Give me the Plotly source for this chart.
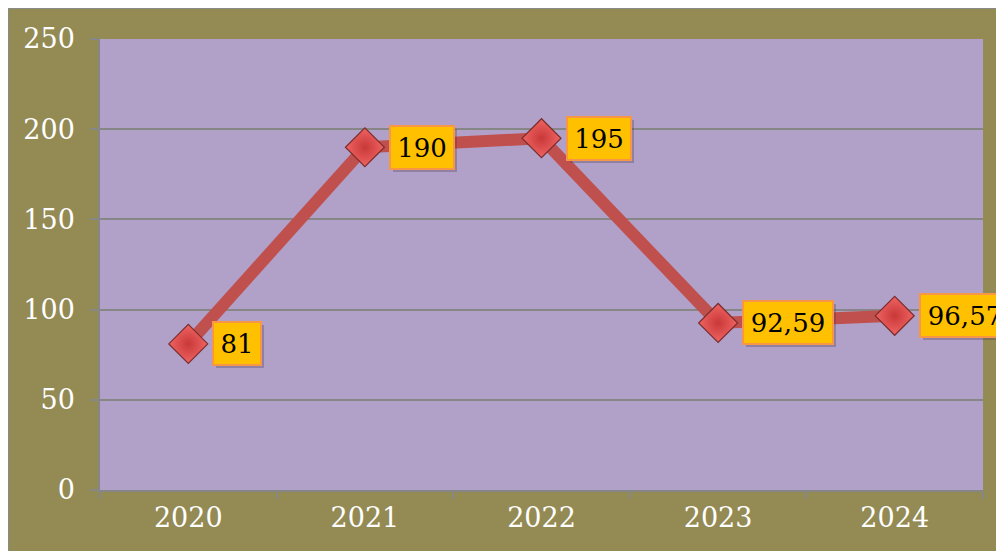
import plotly.graph_objects as go

years = ["2020", "2021", "2022", "2023", "2024"]
values = [81, 190, 195, 92.59, 96.57]
labels = ["81", "190", "195", "92,59", "96,57"]
y_ticks = [0, 50, 100, 150, 200, 250]

OLIVE = "#948A54"
LAV = "#B1A0C7"
GRID = "#868686"
FONT = "DejaVu Serif"

fig = go.Figure()
fig.add_trace(go.Scatter(
    x=years, y=values, mode="lines+markers",
    line=dict(color="#C0504D", width=12),
    marker=dict(symbol="diamond", size=30, color="#F06462",
                gradient=dict(type="radial", color="#C83838"),
                line=dict(color="#7A2E2E", width=1.2)),
    hoverinfo="x+y", showlegend=False,
))

for i, (y, t) in enumerate(zip(values, labels)):
    nd = sum(ch.isdigit() for ch in t)
    nc = t.count(",")
    bw = 16 * nd + 10 * nc + 8
    fig.add_annotation(x=i, y=y, text="\u00a0", showarrow=False, xanchor="left", yanchor="middle",
                       xshift=27, yshift=-3, width=bw, height=35,
                       font=dict(family=FONT, size=26, color="rgba(0,0,0,0)"),
                       bgcolor="rgba(60,50,70,0.28)", borderpad=3, borderwidth=2,
                       bordercolor="rgba(0,0,0,0)")
    fig.add_annotation(x=i, y=y, text=t, showarrow=False, xanchor="left", yanchor="middle",
                       xshift=24, width=bw, height=35, align="center",
                       font=dict(family=FONT, size=26, color="black"),
                       bgcolor="#FFC000", bordercolor="#F79646", borderwidth=2, borderpad=3)

W, H = 1004, 551
ml, mr, mt, mb = 92, 29, 31, 69
pw, ph = W - ml - mr, H - mt - mb
fig.add_shape(type="rect", xref="paper", yref="paper", layer="below",
              x0=-ml / pw, x1=(W + 10 - ml) / pw,
              y0=-(mb + 10) / ph, y1=(ph + mt) / ph,
              fillcolor=OLIVE, line=dict(color="#8A8A8A", width=2))
fig.add_shape(type="rect", xref="paper", yref="paper", layer="below",
              x0=0, x1=1, y0=0, y1=1, fillcolor=LAV, line=dict(width=0))

fig.update_layout(
    width=W, height=H,
    margin=dict(l=ml, r=mr, t=mt, b=mb),
    paper_bgcolor=OLIVE, plot_bgcolor=LAV,
    font=dict(family=FONT, size=27, color="white"),
    xaxis=dict(type="category", range=[-0.5, 4.5], tickson="boundaries",
               ticks="outside", ticklen=7, tickcolor=GRID, tickwidth=1.5,
               showline=True, linecolor=GRID, linewidth=2, showgrid=False,
               tickfont=dict(family=FONT, size=27, color="white"),
               ticklabelstandoff=3),
    yaxis=dict(range=[0, 250], tickvals=y_ticks, ticks="outside", ticklen=8,
               tickcolor=GRID, tickwidth=1.5, showline=True, linecolor=GRID, linewidth=1.5,
               gridcolor=GRID, gridwidth=1.5, zeroline=False,
               tickfont=dict(family=FONT, size=27, color="white"),
               ticklabelstandoff=10),
)

fig.write_html("out.html")
